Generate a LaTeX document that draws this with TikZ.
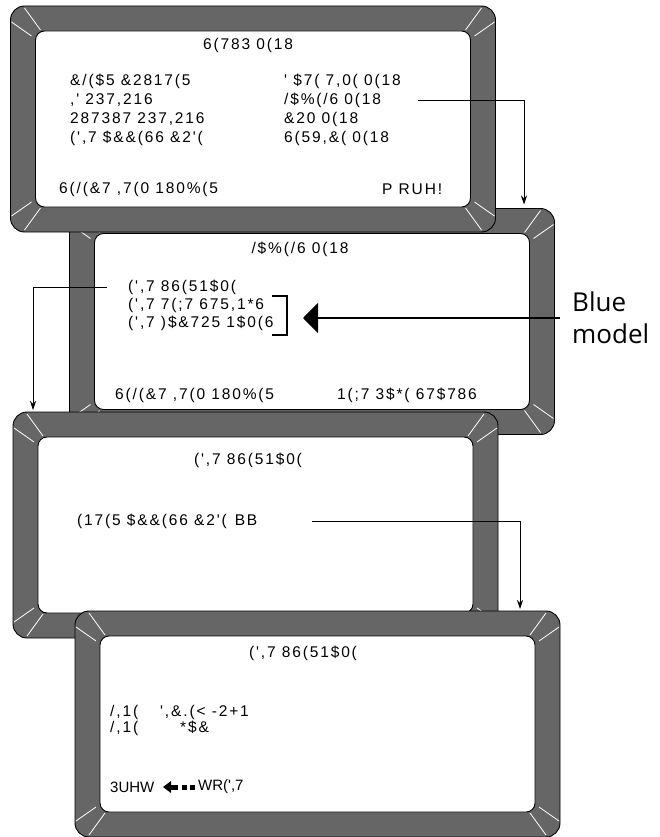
\documentclass[tikz,border=0pt]{standalone}
\usepackage{fontspec}
\setmainfont{Liberation Sans}
\newfontfamily\lcdfont{Liberation Sans}[Ligatures=TeXOff, LetterSpace=12]
\newfontfamily\keyfont{Liberation Sans}[Ligatures=TeXOff]
\newfontfamily\notefont{Open Sans}
\usetikzlibrary{arrows.meta}
\definecolor{bezelgray}{HTML}{666666}

\begin{document}
\begin{tikzpicture}[
    x=1pt, y=-1pt,
    bezel/.style={draw=black, fill=bezelgray, rounded corners=14pt, line width=0.9pt, inner sep=0pt, outer sep=0pt, minimum width=485pt, minimum height=226pt},
    screen/.style={draw=black, fill=white, rounded corners=9pt, line width=0.9pt, inner sep=0pt, outer sep=0pt, minimum width=435pt, minimum height=176pt},
    glint/.style={draw=white, line width=0.8pt},
    lcd/.style={font=\lcdfont\fontsize{15.5}{18}\selectfont, inner sep=0pt, anchor=west},
    title/.style={font=\lcdfont\fontsize{15.5}{18}\selectfont, inner sep=0pt},
    keytext/.style={font=\keyfont\fontsize{15}{18}\selectfont, inner sep=0pt, anchor=west},
    note/.style={font=\notefont\fontsize{26}{32}\selectfont, inner sep=0pt, anchor=west, align=left},
    arr/.style={line width=0.8pt, -{Stealth[length=9pt, width=6pt]}},
    bigarr/.style={line width=1.8pt, -{Triangle[length=15pt, width=30pt]}}
]
\useasboundingbox (0,0) rectangle (660,837);

% --- Screens (back to front) ---
\foreach \f/\cx/\cy in {f2/312/321.5, f1/253/119, f3/255.5/525, f4/317.5/724}{
  \node (\f) at (\cx,\cy) [bezel] {};
  \node (\f s) at (\cx,\cy) [screen] {};
  \foreach \cn/\sx/\sy in {north west/1/1, north east/-1/1, south west/1/-1, south east/-1/-1}{
    \draw [glint] ([shift={(14*\sx,2*\sy)}]\f.\cn) -- ([shift={(30*\sx,24*\sy)}]\f.\cn);
    \draw [glint] ([shift={(1*\sx,16*\sy)}]\f.\cn) -- ([shift={(21*\sx,30*\sy)}]\f.\cn);
  }
}

% Screen 1
\node (f1t) at (248, 45) [title] {6(783 0(18};
\node (f1l1) at (70, 81) [lcd] {\&/(\$5 \&2817(5};
\node (f1l2) at (70, 100) [lcd] {,' 237,216};
\node (f1l3) at (70, 119) [lcd] {287387 237,216};
\node (f1l4) at (70, 138) [lcd] {(',7 \$\&\&(66 \&2'(};
\node (f1r1) at (284, 81) [lcd] {' \$7( 7,0( 0(18};
\node (f1r2) at (284, 100) [lcd] {/\$\%(/6 0(18};
\node (f1r3) at (284, 119) [lcd] {\&20 0(18};
\node (f1r4) at (284, 138) [lcd] {6(59,\&( 0(18};
\node (f1b1) at (59, 189) [lcd] {6(/(\&7 ,7(0 180\%(5};
\node (f1b2) at (382, 189) [lcd] {P RUH!};

% Screen 2
\node (f2t) at (300, 249) [title] {/\$\%(/6 0(18};
\node (f2r1) at (128, 287) [lcd] {(',7 86(51\$0(};
\node (f2r2) at (128, 305) [lcd] {(',7 7(;7 675,1*6};
\node (f2r3) at (128, 323) [lcd] {(',7 )\$\&725 1\$0(6};
\node (f2b1) at (115, 395) [lcd] {6(/(\&7 ,7(0 180\%(5};
\node (f2b2) at (337, 395) [lcd] {1(;7 3\$*( 67\$786};
\draw [line width=1.8pt] (272,296) -- (287,296) -- (287,335) -- (272,335);
\coordinate (brk) at (287,318);
\node (bluelbl) at (572, 318) [note] {Blue\\model};

% Screen 3
\node (f3t) at (248, 460) [title] {(',7 86(51\$0(};
\node (f3r1) at (77, 521) [lcd] {(17(5 \$\&\&(66 \&2'(\hspace{8pt}BB};

% Screen 4
\node (f4t) at (303, 653) [title] {(',7 86(51\$0(};
\node (f4r1) at (110, 712) [lcd] {/,1(\hspace{22pt}',\&.(< -2+1};
\node (f4r2) at (110, 728) [lcd] {/,1(\hspace{42pt}*\$\&};
\node (f4p1) at (110, 787) [keytext] {3UHW};
\node (f4p2) at (198, 787) [keytext] {WR(',7};
\fill (163,787) -- (171,781) -- (171,793) -- cycle;
\fill (170,784.5) rectangle (178,789.5);
\fill (182,784.5) rectangle (187,789.5);
\fill (190,784.5) rectangle (195,789.5);

% --- Connectors ---
\draw [arr, shorten >=4pt] (f1r2.east -| 418,0) -| (f2.north -| 524,0);
\draw [arr, shorten >=2pt] (f2r1.west -| 107,0) -| (f3.north -| 33,0);
\draw [arr, shorten >=2pt] (f3r1.east -| 312,0) -| (f4.north -| 520,0);
\draw [bigarr, shorten <=12pt, shorten >=16pt] (bluelbl.west) -- (brk);

\end{tikzpicture}
\end{document}
